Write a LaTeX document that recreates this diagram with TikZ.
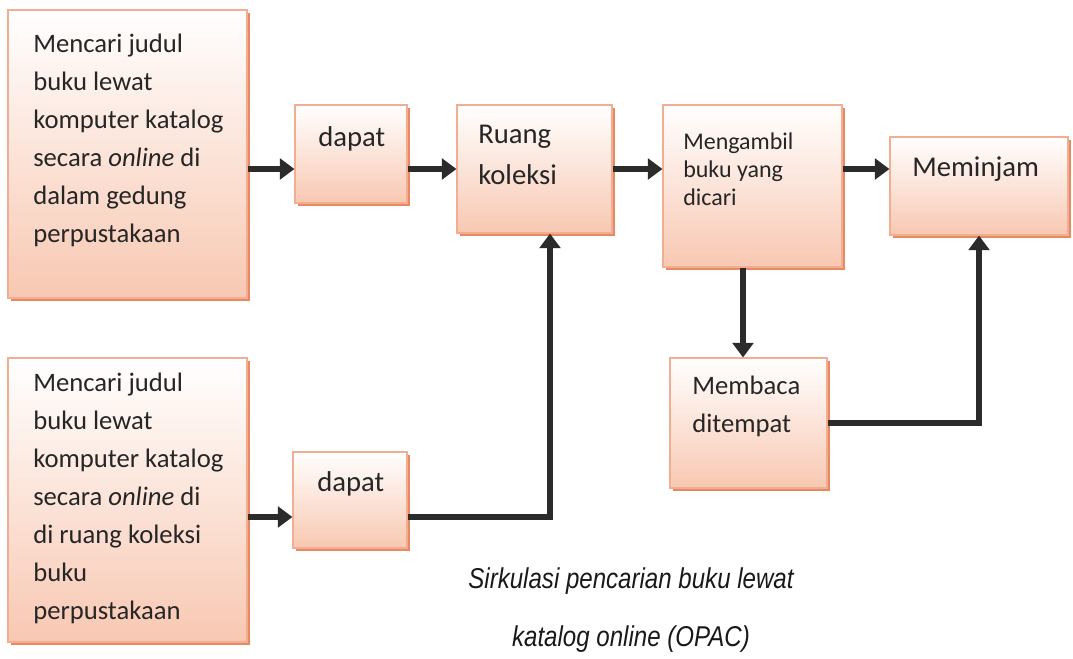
\documentclass[tikz,border=0pt]{standalone}
\usepackage{fontspec}
\setmainfont{Carlito}
\newfontfamily\fontketerangan[FakeStretch=0.84]{Liberation Sans}
\usetikzlibrary{arrows.meta,shadows}

\definecolor{garis}{HTML}{F2AE92}
\definecolor{isi}{HTML}{F8C8B2}
\definecolor{bayang}{HTML}{EA8862}
\definecolor{hitam}{HTML}{2B2B2B}

\tikzset{
  kotak/.style={draw=garis, line width=0.8pt, top color=white, bottom color=isi,
    general shadow={fill=bayang, shadow xshift=2pt, shadow yshift=-2.2pt}, inner sep=0pt},
  teks/.style={anchor=north west, align=left, inner sep=0pt, text=black!85,
    font=\fontsize{20}{28.5}\selectfont},
  besar/.style={font=\fontsize{21.5}{30.75}\selectfont},
  kecil/.style={font=\fontsize{18}{21}\selectfont},
  panah/.style={draw=hitam, line width=3.8pt, -{Triangle[length=11pt,width=15.5pt]}},
}

\begin{document}
\begin{tikzpicture}[x=0.75pt, y=-0.75pt]
  \useasboundingbox (0,0) rectangle (1073,658);

  % 箱
  \node[kotak, minimum width=179.25pt, minimum height=216pt] (kotak1) at (127.5,154) {};
  \node[kotak, minimum width=179.25pt, minimum height=213pt] (kotak2) at (127.5,500) {};
  \node[kotak, minimum width=84pt, minimum height=73.5pt] (dapat1) at (351,154) {};
  \node[kotak, minimum width=85.5pt, minimum height=72pt] (dapat2) at (350,500) {};
  \node[kotak, minimum width=116.25pt, minimum height=96pt] (ruang) at (534.5,169) {};
  \node[kotak, minimum width=134.25pt, minimum height=121.5pt] (ambil) at (752.5,186) {};
  \node[kotak, minimum width=133.5pt, minimum height=73.5pt] (pinjam) at (979,186) {};
  \node[kotak, minimum width=117.75pt, minimum height=97.5pt] (baca) at (748.5,423) {};

  % 箱の中の文字
  \node[teks] (t1) at (33,34) {Mencari judul\\buku lewat\\komputer katalog\\secara \textit{online} di\\dalam gedung\\perpustakaan};
  \node[teks] (t2) at (33,373) {Mencari judul\\buku lewat\\komputer katalog\\secara \textit{online} di\\di ruang koleksi\\buku\\perpustakaan};
  \node[teks, besar] (t3) at (318,126) {dapat};
  \node[teks, besar] (t4) at (317,471) {dapat};
  \node[teks, besar] (t5) at (478,125) {Ruang\\koleksi};
  \node[teks, kecil] (t6) at (683,133) {Mengambil\\buku yang\\dicari};
  \node[teks, besar] (t7) at (912,157) {Meminjam};
  \node[teks] (t8) at (692,376) {Membaca\\ditempat};

  % 矢印の高さ
  \coordinate (atas) at (0,169);
  \coordinate (bawah) at (0,517);
  \coordinate (belok) at (550,0);
  \coordinate (turun) at (743,0);

  % 上の流れ
  \draw[panah] (kotak1.east |- atas) -- (dapat1.west |- atas);
  \draw[panah] (dapat1.east |- atas) -- (ruang.west |- atas);
  \draw[panah] (ruang.east |- atas) -- (ambil.west |- atas);
  \draw[panah] (ambil.east |- atas) -- (pinjam.west |- atas);

  % 下の流れ
  \draw[panah] (kotak2.east |- bawah) -- (dapat2.west |- bawah);
  \draw[panah] (dapat2.east |- bawah) -| (belok |- ruang.south);
  \draw[panah] (ambil.south -| turun) -- (baca.north -| turun);
  \draw[panah] (baca.east) -| (pinjam.south);

  % 説明
  \node[align=center, text=black!90, font=\fontketerangan\itshape\fontsize{21.5}{43.5}\selectfont] (keterangan) at (631,610)
    {Sirkulasi pencarian buku lewat\\katalog online (OPAC)};
\end{tikzpicture}
\end{document}
